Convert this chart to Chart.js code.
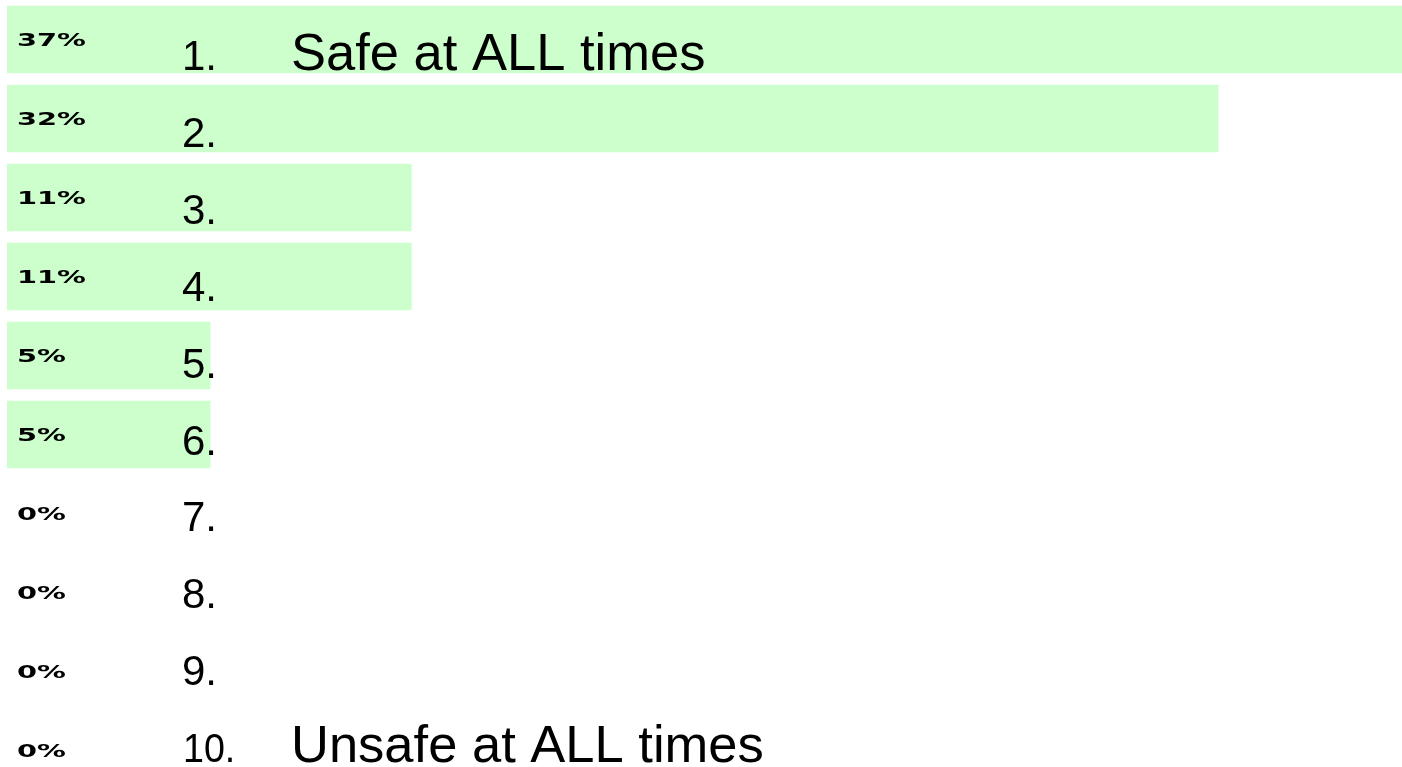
<!DOCTYPE html>
<html>
<head>
<meta charset="utf-8">
<script src="https://cdn.jsdelivr.net/npm/chart.js@4/dist/chart.umd.min.js"></script>
<style>
  html, body { margin: 0; padding: 0; background: #ffffff; overflow: hidden; }
  #wrap { position: relative; width: 1402px; height: 790px; }
</style>
</head>
<body>
<div id="wrap"><canvas id="c"></canvas></div>
<script>
// Data
const categories = ["1.", "2.", "3.", "4.", "5.", "6.", "7.", "8.", "9.", "10."];
const descriptions = ["Safe at ALL times", "", "", "", "", "", "", "", "", "Unsafe at ALL times"];
const values = [36.8, 31.6, 10.55, 10.55, 5.3, 5.3, 0, 0, 0, 0];
const percentLabels = ["37%", "32%", "11%", "11%", "5%", "5%", "0%", "0%", "0%", "0%"];

const labelPlugin = {
  id: 'rowLabels',
  afterDatasetsDraw(chart) {
    const ctx = chart.ctx;
    const yScale = chart.scales.y;
    ctx.save();
    ctx.fillStyle = '#000000';
    categories.forEach((cat, i) => {
      const yc = yScale.getPixelForValue(i);
      // percent label (wide bold)
      ctx.save();
      ctx.font = 'bold 18px "DejaVu Sans"';
      ctx.textBaseline = 'alphabetic';
      ctx.textAlign = 'left';
      ctx.translate(17, yc + 6.5);
      ctx.scale(1.6, 1);
      ctx.fillText(percentLabels[i], 0, 0);
      ctx.restore();
      // item number
      const base = yc + 30.5 - 2.1 * i;
      ctx.textBaseline = 'alphabetic';
      ctx.textAlign = 'left';
      if (i === 9) {
        ctx.save();
        ctx.font = '40px "Liberation Sans", Arial, sans-serif';
        ctx.translate(183, base);
        ctx.scale(0.94, 1);
        ctx.fillText(cat, 0, 0);
        ctx.restore();
      } else {
        ctx.font = '42px "Liberation Sans", Arial, sans-serif';
        ctx.fillText(cat, 182, base);
      }
      if (descriptions[i]) {
        ctx.font = '52.5px "Liberation Sans", Arial, sans-serif';
        ctx.fillText(descriptions[i], 291, base);
      }
    });
    ctx.restore();
  }
};

new Chart(document.getElementById('c'), {
  type: 'bar',
  data: {
    labels: categories,
    datasets: [{
      data: values,
      backgroundColor: (c) => (c.raw > 0 ? '#CCFFCC' : 'rgba(0,0,0,0)'),
      borderWidth: 0,
      barThickness: 67,
      categoryPercentage: 1.0
    }]
  },
  options: {
    indexAxis: 'y',
    responsive: true,
    maintainAspectRatio: false,
    animation: false,
    layout: { padding: { left: 7, right: 0, top: 0, bottom: 0 } },
    plugins: { legend: { display: false }, tooltip: { enabled: false } },
    scales: {
      x: { display: false, min: 0, max: 36.4, grid: { display: false } },
      y: { display: false, grid: { display: false }, offset: true }
    }
  },
  plugins: [labelPlugin]
});
</script>
</body>
</html>
